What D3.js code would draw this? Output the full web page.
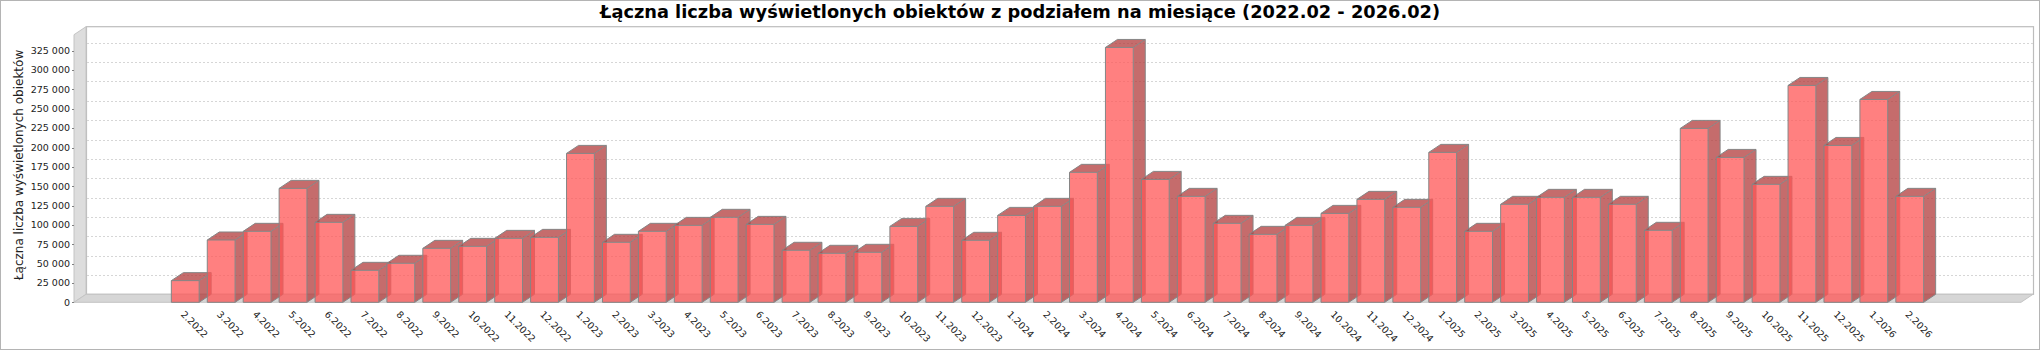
<!DOCTYPE html>
<html>
<head>
<meta charset="utf-8">
<script src="https://cdn.jsdelivr.net/npm/d3@7"></script>
<style>
  html, body { margin: 0; padding: 0; background: #ffffff; }
  svg { display: block; font-family: "DejaVu Sans", sans-serif; }
</style>
</head>
<body>
<svg id="chart" width="2040" height="350"></svg>
<script>
// Monthly totals of displayed objects, 2022.02 – 2026.02
const months = [
  "2.2022","3.2022","4.2022","5.2022","6.2022","7.2022","8.2022","9.2022","10.2022","11.2022","12.2022",
  "1.2023","2.2023","3.2023","4.2023","5.2023","6.2023","7.2023","8.2023","9.2023","10.2023","11.2023","12.2023",
  "1.2024","2.2024","3.2024","4.2024","5.2024","6.2024","7.2024","8.2024","9.2024","10.2024","11.2024","12.2024",
  "1.2025","2.2025","3.2025","4.2025","5.2025","6.2025","7.2025","8.2025","9.2025","10.2025","11.2025","12.2025",
  "1.2026","2.2026"
];
const views = [
  28000, 80500, 91700, 147200, 103300, 41300, 50400, 69700, 72300, 82600, 83900,
  192400, 77500, 91700, 99400, 109800, 100700, 67200, 63300, 64600, 98100, 124000, 80100,
  112300, 124000, 167900, 329300, 158800, 136900, 102000, 87800, 99400, 114900, 133000, 122700,
  193700, 91700, 126600, 135600, 135600, 126600, 93000, 224700, 187200, 152400, 280200, 202700,
  262100, 136900
];
const yTicks = [0, 25000, 50000, 75000, 100000, 125000, 150000, 175000, 200000, 225000, 250000, 275000, 300000, 325000];
const chartTitle = "Łączna liczba wyświetlonych obiektów z podziałem na miesiące (2022.02 - 2026.02)";
const yAxisTitle = "Łączna liczba wyświetlonych obiektów";

// Layout
const W = 2040, H = 350;
const dx = 12, dy = 8;                      // 3D depth offset
const plot = { left: 74, right: 2021, top: 34.7, bottom: 302.3 };

const svg = d3.select("#chart");
const pl = d3.formatLocale({ decimal: ",", thousands: "\u00a0", grouping: [3], currency: ["", " zł"] });
const fmt = pl.format(",d");

// Category scale: 5% margins on both ends, 20% of the width split between gaps
const pw = plot.right - plot.left;
const bw = 0.7 * pw / months.length;
const gap = 0.2 * pw / (months.length - 1);
const x = d3.scaleBand()
  .domain(months)
  .range([plot.left + 0.05 * pw, plot.right - 0.05 * pw])
  .paddingInner(gap / (bw + gap))
  .paddingOuter(0);

const y = d3.scaleLinear()
  .domain([0, d3.max(views) * 1.05])
  .range([plot.bottom, plot.top]);

// Background and outer frame
svg.append("rect").attr("x", 0.5).attr("y", 0.5).attr("width", W - 1).attr("height", H - 1)
  .attr("fill", "#ffffff").attr("stroke", "#b4b4b4");

// Title
svg.append("text")
  .attr("x", W / 2).attr("y", 17.5)
  .attr("text-anchor", "middle")
  .attr("font-size", "17.8px").attr("font-weight", "bold")
  .attr("fill", "#000")
  .text(chartTitle);

// Back wall
svg.append("rect")
  .attr("x", plot.left + dx + 0.5).attr("y", plot.top - dy)
  .attr("width", pw).attr("height", plot.bottom - plot.top)
  .attr("fill", "#ffffff").attr("stroke", "#bdbdbd").attr("stroke-width", 1.2);

// Left wall
svg.append("path")
  .attr("d", d3.line()([
    [plot.left, plot.bottom], [plot.left, plot.top],
    [plot.left + dx, plot.top - dy], [plot.left + dx, plot.bottom - dy]
  ]) + "Z")
  .attr("fill", "#dddddd").attr("stroke", "#c4c4c4");

// Floor
svg.append("path")
  .attr("d", d3.line()([
    [plot.left, plot.bottom], [plot.right, plot.bottom],
    [plot.right + dx, plot.bottom - dy], [plot.left + dx, plot.bottom - dy]
  ]) + "Z")
  .attr("fill", "#d6d6d6").attr("stroke", "#c4c4c4");

// Gridlines on the back wall
svg.append("g").selectAll("line")
  .data(yTicks.filter(t => t > 0))
  .join("line")
  .attr("x1", plot.left + dx + 1).attr("x2", plot.right + dx)
  .attr("y1", d => Math.round(y(d) - dy) + 0.5).attr("y2", d => Math.round(y(d) - dy) + 0.5)
  .attr("stroke", "#d6d6d6").attr("stroke-dasharray", "2,2");

// Value axis ticks and labels
const yAxis = svg.append("g");
yAxis.selectAll("line")
  .data(yTicks)
  .join("line")
  .attr("x1", plot.left - 2).attr("x2", plot.left)
  .attr("y1", d => Math.round(y(d)) + 0.5).attr("y2", d => Math.round(y(d)) + 0.5)
  .attr("stroke", "#808080");
yAxis.selectAll("text")
  .data(yTicks)
  .join("text")
  .attr("x", plot.left - 4).attr("y", d => y(d))
  .attr("dy", "0.35em")
  .attr("text-anchor", "end")
  .attr("font-size", "9.5px")
  .attr("fill", "#222")
  .text(d => fmt(d));

// Value axis title
svg.append("text")
  .attr("transform", `translate(23,165) rotate(-90)`)
  .attr("text-anchor", "middle")
  .attr("font-size", "12px")
  .attr("fill", "#222")
  .text(yAxisTitle);

// 3D bars
const bars = svg.append("g");
months.forEach((m, i) => {
  const xl = x(m), xr = xl + x.bandwidth();
  const yt = y(views[i]), yb = y(0);
  const g = bars.append("g");
  g.append("rect")
    .attr("x", xl).attr("y", yt).attr("width", x.bandwidth()).attr("height", yb - yt)
    .attr("fill", "rgb(255,85,85)").attr("fill-opacity", 0.75);
  g.append("path")
    .attr("d", d3.line()([[xr, yt], [xr + dx, yt - dy], [xr + dx, yb - dy], [xr, yb]]) + "Z")
    .attr("fill", "rgb(178,59,59)").attr("fill-opacity", 0.75);
  g.append("path")
    .attr("d", d3.line()([[xl, yt], [xl + dx, yt - dy], [xr + dx, yt - dy], [xr, yt]]) + "Z")
    .attr("fill", "rgb(178,59,59)").attr("fill-opacity", 0.75);
  g.append("path")
    .attr("d", d3.line()([[xl, yb], [xl, yt], [xr, yt], [xr, yb]]) + "Z" +
               d3.line()([[xl, yt], [xl + dx, yt - dy], [xr + dx, yt - dy], [xr + dx, yb - dy], [xr, yb]]) +
               d3.line()([[xr, yt], [xr + dx, yt - dy]]))
    .attr("fill", "none").attr("stroke", "#858585").attr("stroke-width", 1);
});

// Category labels, rotated 45°
svg.append("g").selectAll("text")
  .data(months)
  .join("text")
  .attr("transform", d => `translate(${x(d) + x.bandwidth() / 2},310) rotate(45)`)
  .attr("x", 0).attr("y", 7)
  .attr("text-anchor", "start")
  .attr("font-size", "9.5px")
  .attr("fill", "#222")
  .text(d => d);
</script>
</body>
</html>
